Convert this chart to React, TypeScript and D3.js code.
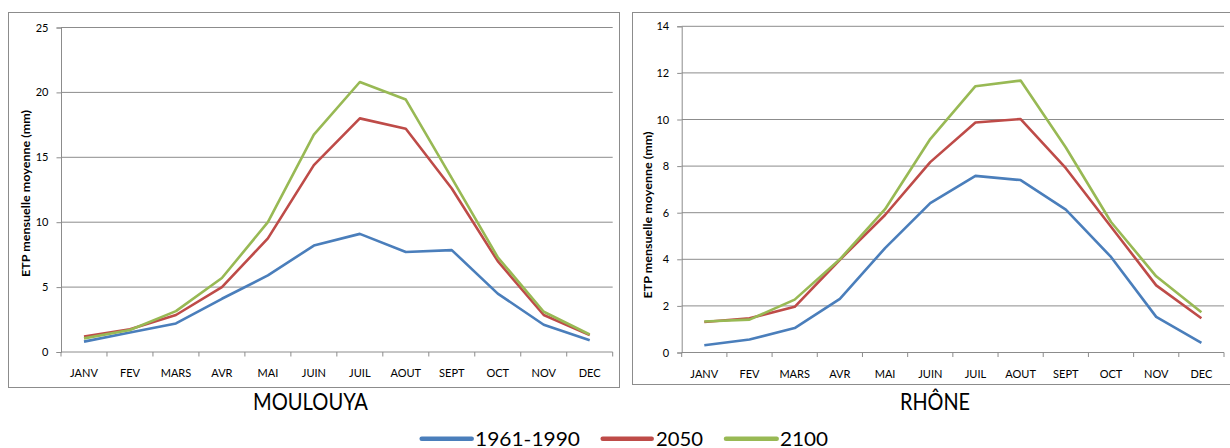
import * as d3 from "d3";
import { useEffect, useRef } from "react";

const MONTHS = ["JANV", "FEV", "MARS", "AVR", "MAI", "JUIN", "JUIL", "AOUT", "SEPT", "OCT", "NOV", "DEC"];

const MOULOUYA_1961_1990 = [0.8, 1.5, 2.2, 4.1, 5.9, 8.2, 9.1, 7.7, 7.85, 4.5, 2.1, 0.9];
const MOULOUYA_2050 = [1.2, 1.75, 2.85, 5.0, 8.75, 14.4, 18.0, 17.2, 12.6, 7.0, 2.85, 1.3];
const MOULOUYA_2100 = [1.05, 1.7, 3.15, 5.7, 10.0, 16.75, 20.8, 19.45, 13.4, 7.3, 3.1, 1.35];
const MOULOUYA_TICKS = [0, 5, 10, 15, 20, 25];

const RHONE_1961_1990 = [0.31, 0.56, 1.05, 2.3, 4.48, 6.41, 7.58, 7.4, 6.13, 4.1, 1.53, 0.41];
const RHONE_2050 = [1.31, 1.47, 1.96, 3.98, 5.9, 8.17, 9.87, 10.02, 7.91, 5.4, 2.88, 1.47];
const RHONE_2100 = [1.33, 1.41, 2.27, 4.0, 6.15, 9.16, 11.43, 11.67, 8.8, 5.6, 3.27, 1.73];
const RHONE_TICKS = [0, 2, 4, 6, 8, 10, 12, 14];

const SERIES_NAMES = ["1961-1990", "2050", "2100"];
const SERIES_COLORS = ["#4A7EBB", "#BE4B48", "#98B954"];

const FONT = "Lato, 'Open Sans', sans-serif";
const GRID = "#8c8c8c";

type PanelCfg = {
  title: string;
  series: number[][];
  ticks: number[];
  frame: [number, number, number, number];
  plot: [number, number, number, number];
  axisTitle: { x: number; y: number; len: number };
  titlePos: { x: number; len: number };
};

const PANELS: PanelCfg[] = [
  {
    title: "MOULOUYA",
    series: [MOULOUYA_1961_1990, MOULOUYA_2050, MOULOUYA_2100],
    ticks: MOULOUYA_TICKS,
    frame: [8.5, 12.5, 619.5, 387.5],
    plot: [61, 27.5, 612.7, 352],
    axisTitle: { x: 26, y: 193.5, len: 167 },
    titlePos: { x: 310.5, len: 115 },
  },
  {
    title: "RHÔNE",
    series: [RHONE_1961_1990, RHONE_2050, RHONE_2100],
    ticks: RHONE_TICKS,
    frame: [632.5, 12.5, 1240, 384.5],
    plot: [681.7, 26.3, 1224, 352.5],
    axisTitle: { x: 648, y: 215, len: 167 },
    titlePos: { x: 935, len: 70 },
  },
];

function drawPanel(root: d3.Selection<SVGGElement, unknown, null, undefined>, p: PanelCfg) {
  const [fx0, fy0, fx1, fy1] = p.frame;
  const [px0, py0, px1, py1] = p.plot;

  root
    .append("rect")
    .attr("x", fx0)
    .attr("y", fy0)
    .attr("width", fx1 - fx0)
    .attr("height", fy1 - fy0)
    .attr("fill", "#fff")
    .attr("stroke", GRID)
    .attr("stroke-width", 1);

  const x = d3.scaleBand<string>().domain(MONTHS).range([px0, px1]).padding(0);
  const y = d3
    .scaleLinear()
    .domain([0, d3.max(p.ticks) as number])
    .range([py1, py0]);

  // gridlines
  root
    .append("g")
    .selectAll("line")
    .data(p.ticks.filter((t) => t > 0))
    .join("line")
    .attr("x1", px0)
    .attr("x2", px1)
    .attr("y1", (d) => y(d))
    .attr("y2", (d) => y(d))
    .attr("stroke", GRID)
    .attr("stroke-width", 1);

  // y axis
  const ya = root
    .append("g")
    .attr("transform", `translate(${px0},0)`)
    .call(d3.axisLeft(y).tickValues(p.ticks).tickSize(4.5).tickPadding(8).tickFormat(d3.format("d")));
  ya.select(".domain").attr("stroke", GRID);
  ya.selectAll(".tick line").attr("stroke", GRID);
  ya.selectAll(".tick text")
    .attr("font-family", FONT)
    .attr("font-size", 11)
    .attr("fill", "#000");

  // x axis
  root
    .append("line")
    .attr("x1", px0)
    .attr("x2", px1)
    .attr("y1", py1)
    .attr("y2", py1)
    .attr("stroke", GRID);
  const bounds = d3.range(MONTHS.length + 1).map((i) => px0 + i * x.bandwidth());
  root
    .append("g")
    .selectAll("line")
    .data(bounds)
    .join("line")
    .attr("x1", (d) => d)
    .attr("x2", (d) => d)
    .attr("y1", py1)
    .attr("y2", py1 + 4.5)
    .attr("stroke", GRID);
  root
    .append("g")
    .selectAll("text")
    .data(MONTHS)
    .join("text")
    .attr("x", (d) => (x(d) as number) + x.bandwidth() / 2)
    .attr("y", py1 + 25)
    .attr("text-anchor", "middle")
    .attr("font-family", FONT)
    .attr("font-size", 11)
    .text((d) => d);

  // axis title
  root
    .append("text")
    .attr("transform", `translate(${p.axisTitle.x},${p.axisTitle.y}) rotate(-90)`)
    .attr("text-anchor", "middle")
    .attr("dy", "0.35em")
    .attr("font-family", FONT)
    .attr("font-weight", 700)
    .attr("font-size", 10.5)
    .attr("textLength", p.axisTitle.len)
    .attr("lengthAdjust", "spacingAndGlyphs")
    .text("ETP mensuelle moyenne (mm)");

  // series
  const line = d3
    .line<number>()
    .x((_, i) => (x(MONTHS[i]) as number) + x.bandwidth() / 2)
    .y((d) => y(d));
  p.series.forEach((s, k) => {
    root
      .append("path")
      .datum(s)
      .attr("d", line)
      .attr("fill", "none")
      .attr("stroke", SERIES_COLORS[k])
      .attr("stroke-width", 2.6)
      .attr("stroke-linejoin", "round");
  });

  // panel title
  root
    .append("text")
    .attr("x", p.titlePos.x)
    .attr("y", 410)
    .attr("text-anchor", "middle")
    .attr("font-family", FONT)
    .attr("font-size", 23.5)
    .attr("textLength", p.titlePos.len)
    .attr("lengthAdjust", "spacingAndGlyphs")
    .text(p.title);
}

const LEGEND_POS = [
  { x0: 421.7, x1: 471.7, tx: 475, len: 105 },
  { x0: 602.7, x1: 651.7, tx: 656, len: 47 },
  { x0: 726, x1: 776.7, tx: 780, len: 48 },
];

export default function App() {
  const ref = useRef<SVGSVGElement | null>(null);

  useEffect(() => {
    const svg = d3.select(ref.current);
    svg.selectAll("*").remove();
    const g = svg.append("g") as d3.Selection<SVGGElement, unknown, null, undefined>;
    PANELS.forEach((p) => drawPanel(g.append("g") as any, p));

    const leg = g.append("g");
    SERIES_NAMES.forEach((name, k) => {
      const pos = LEGEND_POS[k];
      leg
        .append("line")
        .attr("x1", pos.x0)
        .attr("x2", pos.x1)
        .attr("y1", 438.8)
        .attr("y2", 438.8)
        .attr("stroke", SERIES_COLORS[k])
        .attr("stroke-width", 4.5)
        .attr("stroke-linecap", "round");
      leg
        .append("text")
        .attr("x", pos.tx)
        .attr("y", 445.5)
        .attr("font-family", FONT)
        .attr("font-size", 19)
        .attr("textLength", pos.len)
        .attr("lengthAdjust", "spacingAndGlyphs")
        .text(name);
    });
  }, []);

  return (
    <svg
      ref={ref}
      width={1230}
      height={448}
      style={{ position: "absolute", left: 0, top: 0, background: "#fff" }}
    />
  );
}
